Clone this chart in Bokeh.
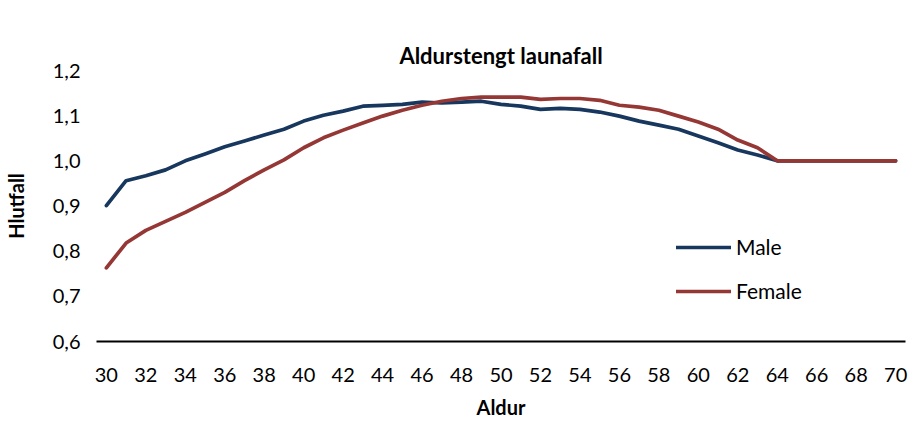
from bokeh.plotting import figure
from bokeh.models import (FixedTicker, CustomJSTickFormatter, Legend, LegendItem,
                          Range1d, LinearAxis)
from bokeh.embed import file_html
from bokeh.resources import INLINE

age = list(range(30, 71))
male = [0.901, 0.956, 0.967, 0.980, 1.000, 1.015, 1.031, 1.044, 1.057, 1.070,
        1.088, 1.101, 1.110, 1.121, 1.123, 1.125, 1.130, 1.128, 1.130, 1.132,
        1.125, 1.121, 1.114, 1.116, 1.114, 1.108, 1.099, 1.088, 1.079, 1.070,
        1.055, 1.040, 1.024, 1.013, 1.000, 1.000, 1.000, 1.000, 1.000, 1.000, 1.000]
female = [0.763, 0.818, 0.846, 0.866, 0.886, 0.908, 0.930, 0.956, 0.980, 1.002,
          1.029, 1.051, 1.068, 1.084, 1.099, 1.112, 1.123, 1.132, 1.138, 1.141,
          1.141, 1.141, 1.136, 1.138, 1.138, 1.134, 1.123, 1.119, 1.112, 1.099,
          1.086, 1.070, 1.046, 1.029, 1.000, 1.000, 1.000, 1.000, 1.000, 1.000, 1.000]
x_ticks = list(range(30, 71, 2))
y_ticks = [0.6, 0.7, 0.8, 0.9, 1.0, 1.1, 1.2]

FONT = "Lato"
INK = "#000000"

p = figure(width=909, height=421, output_backend="svg", toolbar_location=None,
           x_range=Range1d(29.5, 70.5), y_range=Range1d(0.6, 1.2),
           min_border_left=95, min_border_right=4, min_border_top=70, min_border_bottom=78)
p.title.text = "Aldurstengt launafall"
p.title.align = "center"
p.title.text_font = FONT
p.title.text_font_size = "22px"
p.title.text_font_style = "bold"
p.title.text_color = INK
p.title.standoff = 4
p.outline_line_color = None
p.xgrid.visible = False
p.ygrid.visible = False

xa = p.below[0]
ya = p.left[0]

# empty spacer axis between the title and the plot area (no ticks, no labels)
spacer = LinearAxis(ticker=FixedTicker(ticks=[]), axis_line_color=None,
                    major_tick_line_color=None, minor_tick_line_color=None,
                    major_tick_out=32, major_tick_in=0, minor_tick_out=0,
                    major_label_standoff=0, axis_label_standoff=0)
p.add_layout(spacer, "above")

l1 = p.line(age, male, line_color="#17375E", line_width=3.7, line_join="round", line_cap="round")
l2 = p.line(age, female, line_color="#953735", line_width=3.7, line_join="round", line_cap="round")

xa.ticker = FixedTicker(ticks=x_ticks)
xa.axis_label = "Aldur"
xa.axis_label_text_font = FONT
xa.axis_label_text_font_size = "20px"
xa.axis_label_text_font_style = "bold"
xa.axis_label_text_color = INK
xa.axis_label_standoff = 10
xa.major_label_text_font = FONT
xa.major_label_text_font_size = "20px"
xa.major_label_text_color = INK
xa.major_label_standoff = 20
xa.major_tick_line_color = None
xa.minor_tick_line_color = None
xa.axis_line_color = "black"
xa.axis_line_width = 2

ya.ticker = FixedTicker(ticks=y_ticks)
ya.formatter = CustomJSTickFormatter(code="return tick.toFixed(1).replace('.', ',');")
ya.axis_label = "Hlutfall"
ya.axis_label_text_font = FONT
ya.axis_label_text_font_size = "20px"
ya.axis_label_text_font_style = "bold"
ya.axis_label_text_color = INK
ya.axis_label_standoff = 22
ya.major_label_text_font = FONT
ya.major_label_text_font_size = "20px"
ya.major_label_text_color = INK
ya.major_label_standoff = 10
ya.major_tick_line_color = None
ya.minor_tick_line_color = None
ya.axis_line_color = None

legend = Legend(items=[LegendItem(label="Male", renderers=[l1]),
                       LegendItem(label="Female", renderers=[l2])],
                location=(580, 38), orientation="vertical",
                glyph_width=55, glyph_height=24, label_height=24, spacing=19,
                padding=0, margin=0, label_standoff=5,
                label_text_font=FONT, label_text_font_size="21px",
                label_text_color=INK,
                border_line_color=None, background_fill_alpha=0)
p.add_layout(legend)

open("out.html", "w").write(file_html(p, INLINE))
